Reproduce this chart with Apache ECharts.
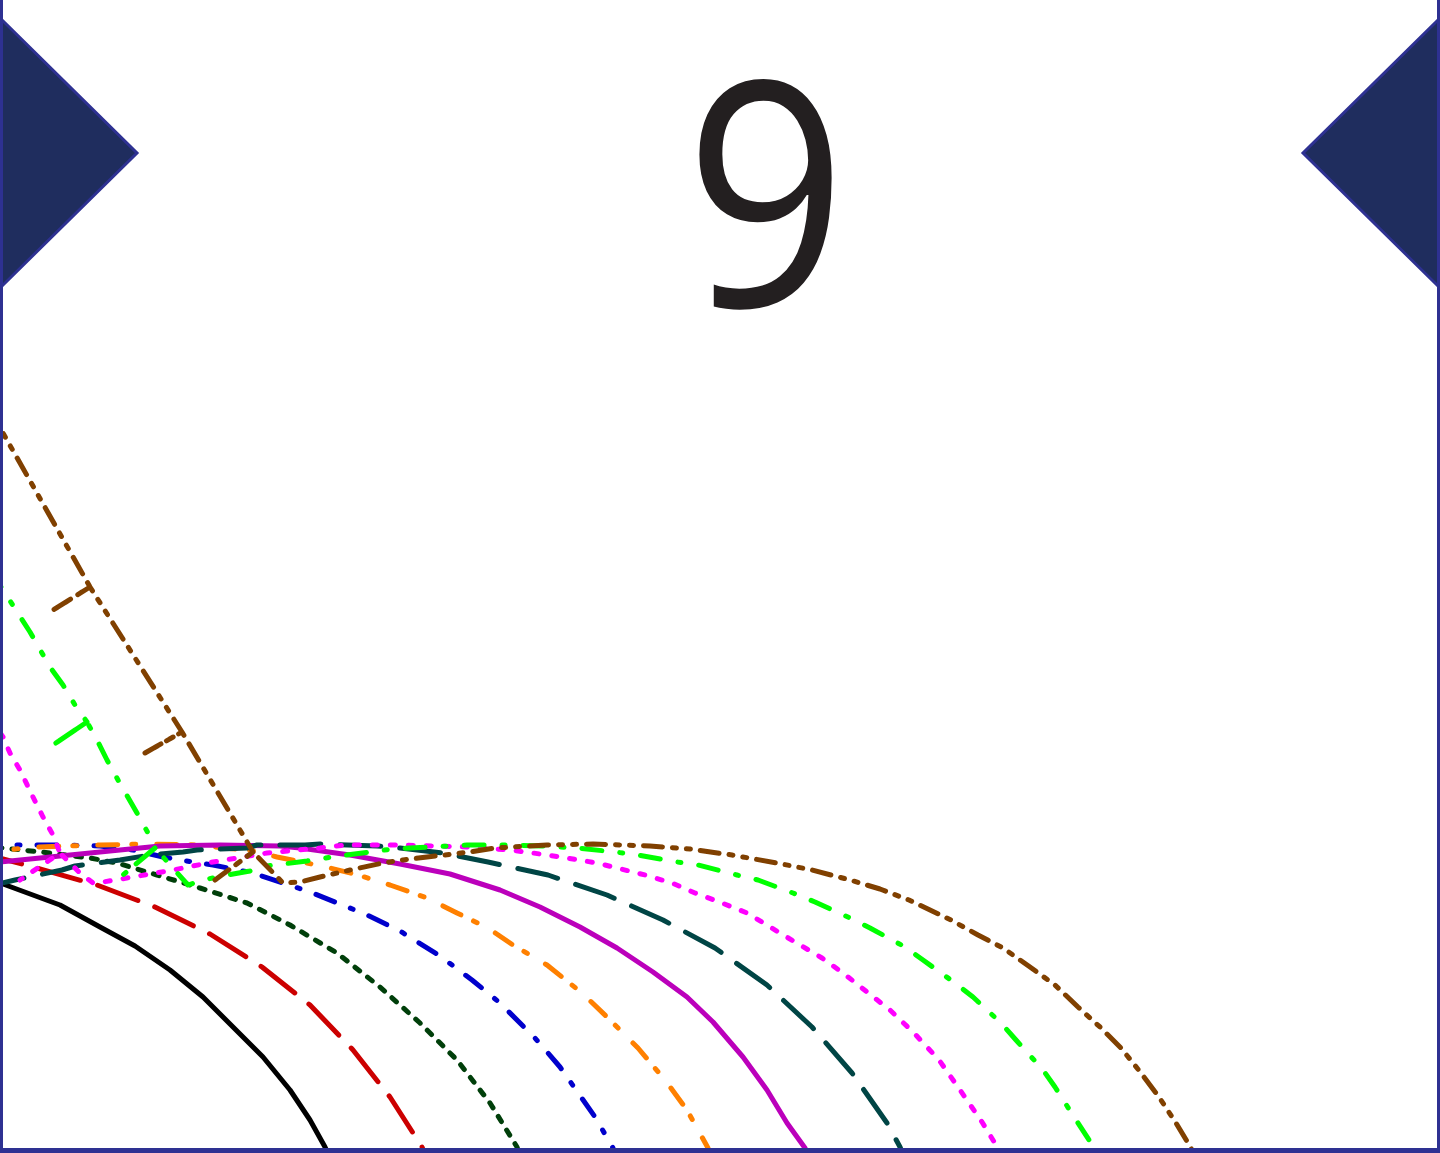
<!DOCTYPE html>
<html>
<head>
<meta charset="utf-8">
<script src="https://cdn.jsdelivr.net/npm/echarts@6/dist/echarts.min.js"></script>
<style>
html,body{margin:0;padding:0;background:#fff;}
#chart{width:1440px;height:1153px;}
</style>
</head>
<body>
<div id="chart"></div>
<script>
// x: horizontal position value, y: depth value (axis inverted)
const curve1 = [[-20,876],[3,884],[60,905],[100,927],[135,946],[170,970],[203,997],[233,1027],[263,1057],[290,1090],[310,1120],[325,1147],[332,1162]];
const curve2 = [[-20,853],[3,859],[33,867],[97,885],[155,907],[210,934],[262,967],[310,1005],[353,1050],[390,1097],[422,1147],[428,1162]];
const curve3 = [[-20,847],[3,848],[50,853],[90,858],[117,863],[157,875],[200,888],[247,903],[290,925],[337,953],[380,987],[420,1023],[457,1060],[490,1103],[517,1147],[522,1162]];
const curve4 = [[-20,845],[0,845],[60,845],[100,846],[133,850],[163,857],[193,862],[213,865],[253,873],[310,892],[345,906],[367,915],[400,931],[440,956],[472,980],[500,1003],[535,1038],[560,1067],[595,1117],[613,1148],[618,1162]];
const curve5 = [[-20,852],[5,850],[37,847],[100,845],[150,844],[200,845],[223,848],[250,850],[277,857],[307,863],[330,868],[358,875],[390,885],[427,898],[457,913],[488,928],[513,945],[547,965],[582,993],[608,1018],[638,1048],[665,1080],[687,1110],[708,1148],[713,1162]];
const curve6 = [[-20,866],[0,862],[50,857],[100,852],[160,846],[220,845],[280,846],[300,848],[350,855],[400,864],[450,874],[500,890],[540,907],[580,927],[617,948],[653,972],[687,997],[713,1022],[743,1057],[767,1090],[787,1123],[805,1148],[811,1162]];
const curve7 = [[-40,820],[-2,884],[15,880],[62,870],[75,866],[120,860],[150,855],[183,852],[197,850],[247,848],[257,845],[305,845],[320,844],[377,846],[400,848],[443,853],[488,862],[548,875],[607,895],[663,920],[715,948],[767,985],[812,1027],[852,1073],[887,1123],[900,1147],[906,1162]];
const curve8 = [[-10,718],[3,737],[10,753],[20,770],[33,797],[43,817],[53,835],[60,853],[20,880],[60,853],[67,860],[80,873],[93,883],[103,882],[133,877],[173,870],[213,862],[267,853],[320,848],[345,845],[400,845],[467,847],[510,850],[533,853],[567,858],[597,863],[617,868],[645,875],[672,883],[695,893],[722,903],[747,913],[770,927],[795,942],[822,958],[843,973],[867,992],[890,1010],[914,1033],[939,1060],[960,1090],[982,1122],[996,1145],[1001,1162]];
const curve9 = [[-10,570],[5,593],[30,632],[50,667],[63,685],[75,705],[87,722],[50,747],[87,722],[97,740],[107,760],[118,780],[137,813],[148,833],[155,848],[123,875],[155,848],[163,857],[172,867],[188,885],[203,880],[227,875],[250,871],[267,866],[307,861],[332,857],[370,852],[392,849],[432,847],[467,845],[508,845],[542,846],[577,848],[615,852],[638,855],[677,862],[698,865],[737,875],[758,880],[793,893],[815,902],[850,918],[870,928],[905,947],[923,960],[955,983],[973,997],[1001,1023],[1016,1040],[1043,1070],[1055,1087],[1076,1120],[1089,1140],[1097,1162]];
const curve10 = [[-10,408],[3,433],[90,587],[50,612],[90,587],[182,732],[145,753],[182,732],[253,852],[215,880],[253,852],[283,883],[300,882],[320,877],[350,870],[383,863],[403,860],[427,857],[470,852],[495,848],[547,845],[593,844],[650,846],[690,849],[732,855],[777,863],[812,870],[850,880],[880,889],[909,900],[951,920],[978,935],[1003,948],[1030,967],[1055,985],[1078,1007],[1100,1027],[1121,1048],[1141,1073],[1159,1097],[1176,1123],[1191,1148],[1197,1162]];

const curveNames = ['c1','c2','c3','c4','c5','c6','c7','c8','c9','c10'];
const curveData = [curve1,curve2,curve3,curve4,curve5,curve6,curve7,curve8,curve9,curve10];
const curveColors = ['#000000','#cc0000','#003f0a','#0000cc','#ff8000','#bb00bb','#004545','#ff00ff','#00ff00','#804000'];
const curveDash = ['solid',[43,18],[6,10],[20,17,3,17],[20,14,4,21],'solid',[41,19],[5,13],[20,18,3,18],[19,10,4,10,4,10]];
const pageLabel = '9';

const chart = echarts.init(document.getElementById('chart'), null, {renderer:'canvas'});
const series = curveData.map((d,i)=>({
  name: curveNames[i], type:'line', data:d, showSymbol:false, symbol:'none', smooth:false,
  clip:true, animation:false,
  lineStyle:{color:curveColors[i], width:5, type:curveDash[i], cap:'round', join:'round'}
}));
chart.setOption({
  animation:false,
  backgroundColor:'#ffffff',
  grid:{left:0,right:0,top:0,bottom:0,containLabel:false},
  xAxis:{type:'value',min:0,max:1440,show:false},
  yAxis:{type:'value',min:0,max:1153,inverse:true,show:false},
  series:series,
  graphic:[
    {type:'polygon', z:100, shape:{points:[[0,18],[137,153],[0,288]]}, style:{fill:'#1f2d5e',stroke:'#2e3192',lineWidth:3}},
    {type:'polygon', z:100, shape:{points:[[1440,18],[1303,153],[1440,288]]}, style:{fill:'#1f2d5e',stroke:'#2e3192',lineWidth:3}},
    {type:'text', z:100, x:766, y:217, scaleX:0.9, style:{text:pageLabel, x:0, y:0, align:'center', verticalAlign:'middle', font:'314px "Open Sans"', fill:'#231f20'}},
    {type:'rect', z:101, shape:{x:0,y:0,width:3,height:1153}, style:{fill:'#2e3192'}},
    {type:'rect', z:101, shape:{x:1437,y:0,width:3,height:1153}, style:{fill:'#2e3192'}},
    {type:'rect', z:101, shape:{x:0,y:1148,width:1440,height:5}, style:{fill:'#2e3192'}}
  ]
});
</script>
</body>
</html>
